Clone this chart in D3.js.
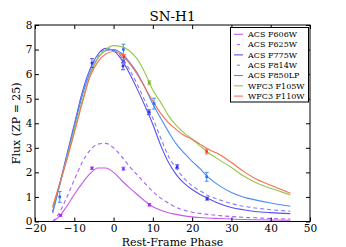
<!DOCTYPE html>
<html>
<head>
<meta charset="utf-8">
<script src="https://cdn.jsdelivr.net/npm/d3@7"></script>
<style>
  body { margin: 0; background: #fff; }
  svg { font-family: "DejaVu Serif", serif; }
</style>
</head>
<body>
<svg id="chart" width="346" height="247"></svg>
<script>
// template light curves, sampled on a common phase grid
const phase = [-15.5, -14, -12, -10, -8, -6, -4, -2, 0, 2, 4, 6, 8, 10, 12, 14, 16, 18, 20, 22, 24, 27, 30, 33, 36, 40, 45];
const f606w = [0.0, 0.18, 0.6, 1.1, 1.55, 1.95, 2.18, 2.18, 2.0, 1.68, 1.38, 1.1, 0.83, 0.6, 0.46, 0.36, 0.29, 0.23, 0.19, 0.16, 0.14, 0.12, 0.1, 0.08, 0.07, 0.06, 0.05];
const f625w = [0.0, 0.3, 0.95, 1.7, 2.4, 2.9, 3.15, 3.18, 3.0, 2.65, 2.25, 1.9, 1.55, 1.22, 0.95, 0.75, 0.57, 0.46, 0.38, 0.33, 0.29, 0.24, 0.2, 0.17, 0.15, 0.12, 0.1];
const f775w = [0.4, 1.35, 2.65, 3.95, 5.25, 6.2, 6.8, 7.05, 6.95, 6.6, 6.05, 5.4, 4.7, 3.95, 3.1, 2.4, 1.9, 1.55, 1.3, 1.1, 0.94, 0.72, 0.57, 0.48, 0.41, 0.36, 0.32];
const f814w = [0.38, 1.3, 2.6, 3.9, 5.2, 6.15, 6.75, 7.0, 6.98, 6.7, 6.2, 5.6, 4.9, 4.2, 3.4, 2.65, 2.15, 1.75, 1.45, 1.25, 1.06, 0.88, 0.73, 0.62, 0.55, 0.48, 0.42];
const f850lp = [0.33, 1.3, 2.55, 3.85, 5.1, 6.05, 6.65, 6.95, 7.0, 6.85, 6.5, 6.05, 5.45, 4.78, 4.2, 3.65, 3.15, 2.78, 2.45, 2.15, 1.82, 1.45, 1.18, 1.0, 0.88, 0.75, 0.62];
const f105w = [0.55, 1.38, 2.5, 3.7, 4.9, 5.95, 6.65, 7.0, 7.16, 7.12, 6.95, 6.62, 6.05, 5.35, 4.85, 4.3, 3.9, 3.6, 3.35, 3.08, 2.82, 2.5, 2.2, 1.86, 1.6, 1.35, 1.08];
const f110w = [0.6, 1.4, 2.45, 3.6, 4.8, 5.9, 6.5, 6.82, 6.92, 6.8, 6.45, 6.0, 5.45, 4.9, 4.4, 4.02, 3.74, 3.5, 3.35, 3.15, 2.95, 2.72, 2.4, 2.05, 1.75, 1.48, 1.15];

const bandNames = ['ACS F606W', 'ACS F625W', 'ACS F775W', 'ACS F814W', 'ACS F850LP', 'WFC3 F105W', 'WFC3 F110W'];

// observed photometry
const obsBand = [0, 0, 0, 1, 2, 2, 2, 2, 2, 3, 4, 4, 4, 4, 5, 6, 6];
const obsPhase = [-13.5, -5.5, 9.1, 2.5, -5.5, 2.4, 9.0, 16.2, 23.8, 2.5, -13.7, 2.5, 10.3, 23.7, 9.1, 2.6, 23.7];
const obsFlux = [0.25, 2.17, 0.68, 2.15, 6.45, 6.33, 4.45, 2.23, 0.93, 6.55, 1.0, 7.0, 4.8, 1.82, 5.65, 6.7, 2.85];
const obsErr = [0.04, 0.05, 0.05, 0.06, 0.18, 0.15, 0.1, 0.08, 0.06, 0.12, 0.22, 0.22, 0.22, 0.18, 0.08, 0.1, 0.1];

const xTicks = [-20, -10, 0, 10, 20, 30, 40, 50];
const yTicks = [0, 1, 2, 3, 4, 5, 6, 7, 8];

const series = [f606w, f625w, f775w, f814w, f850lp, f105w, f110w];
const lineColors = ['#c659ef', '#a064f6', '#5c50ef', '#7c80f6', '#4b8ef2', '#93c84a', '#f56f52'];
const markColors = ['#a328e6', '#8a3af2', '#2238e8', '#4a52f0', '#2d6ff0', '#7cb02c', '#ef3c24'];
const dashes = [null, '4,3', null, '4,3', null, null, null];

var svg = d3.select('#chart');
var m = { left: 35, right: 310, top: 25, bottom: 221.5 };

var x = d3.scaleLinear().domain([-20, 50]).range([m.left, m.right]);
var y = d3.scaleLinear().domain([0, 8]).range([m.bottom, m.top]);

var plot = svg.append('g');

plot.append('clipPath').attr('id', 'clip')
    .append('rect')
    .attr('x', m.left).attr('y', m.top)
    .attr('width', m.right - m.left).attr('height', m.bottom - m.top);

var line = d3.line()
    .x(function (d) { return x(d[0]); })
    .y(function (d) { return y(d[1]); })
    .curve(d3.curveMonotoneX);

var curves = plot.append('g').attr('clip-path', 'url(#clip)');
series.forEach(function (vals, i) {
    curves.append('path')
        .datum(phase.map(function (p, k) { return [p, vals[k]]; }))
        .attr('d', line)
        .attr('fill', 'none')
        .attr('stroke', lineColors[i])
        .attr('stroke-width', 1.1)
        .attr('stroke-dasharray', dashes[i]);
});

// error bars + markers
var pts = curves.append('g');
obsPhase.forEach(function (p, i) {
    var c = lineColors[obsBand[i]];
    var cx = x(p), y0 = y(obsFlux[i] - obsErr[i]), y1 = y(obsFlux[i] + obsErr[i]);
    pts.append('line').attr('x1', cx).attr('x2', cx).attr('y1', y0).attr('y2', y1)
        .attr('stroke', c).attr('stroke-width', 1);
    [y0, y1].forEach(function (yy) {
        pts.append('line').attr('x1', cx - 2).attr('x2', cx + 2).attr('y1', yy).attr('y2', yy)
            .attr('stroke', c).attr('stroke-width', 1);
    });
    pts.append('rect')
        .attr('x', cx - 1.3).attr('y', y(obsFlux[i]) - 1.3)
        .attr('width', 2.6).attr('height', 2.6)
        .attr('fill', markColors[obsBand[i]]);
});

// axes, ticks inward on all four sides
var fmt = d3.format('d');
var axB = d3.axisBottom(x).tickValues(xTicks).tickSizeInner(-4).tickSizeOuter(0).tickPadding(3).tickFormat(fmt);
var axT = d3.axisTop(x).tickValues(xTicks).tickSizeInner(-4).tickSizeOuter(0).tickFormat('');
var axL = d3.axisLeft(y).tickValues(yTicks).tickSizeInner(-4).tickSizeOuter(0).tickPadding(2.5).tickFormat(fmt);
var axR = d3.axisRight(y).tickValues(yTicks).tickSizeInner(-4).tickSizeOuter(0).tickFormat('');

[[axB, 'translate(0,' + m.bottom + ')'], [axT, 'translate(0,' + m.top + ')'],
 [axL, 'translate(' + m.left + ',0)'], [axR, 'translate(' + m.right + ',0)']].forEach(function (a) {
    var g = plot.append('g').attr('transform', a[1]).call(a[0]);
    g.select('.domain').remove();
    g.selectAll('line').attr('stroke', '#000');
    g.selectAll('text').attr('font-size', 10.5).attr('fill', '#000').attr('font-family', 'DejaVu Serif');
});

plot.append('rect')
    .attr('x', m.left).attr('y', m.top)
    .attr('width', m.right - m.left).attr('height', m.bottom - m.top)
    .attr('fill', 'none').attr('stroke', '#000').attr('stroke-width', 1);

svg.append('text').attr('x', (m.left + m.right) / 2).attr('y', 20.5)
    .attr('text-anchor', 'middle').attr('font-size', 13.5).text('SN-H1');
svg.append('text').attr('x', (m.left + m.right) / 2).attr('y', 245.5)
    .attr('text-anchor', 'middle').attr('font-size', 11).text('Rest-Frame Phase');
svg.append('text')
    .attr('transform', 'translate(20,' + ((m.top + m.bottom) / 2) + ') rotate(-90)')
    .attr('text-anchor', 'middle').attr('font-size', 11).text('Flux (ZP = 25)');

// legend
var leg = svg.append('g');
leg.append('rect').attr('x', 230.5).attr('y', 27.5).attr('width', 78).attr('height', 74.5)
    .attr('fill', '#fff').attr('stroke', '#000').attr('stroke-width', 1);
bandNames.forEach(function (name, i) {
    var yy = 34.3 + i * 10.3;
    leg.append('line').attr('x1', 234).attr('x2', 243).attr('y1', yy).attr('y2', yy)
        .attr('stroke', lineColors[i]).attr('stroke-width', 1.1)
        .attr('stroke-dasharray', dashes[i] ? '3,3' : null)
        .attr('stroke-dashoffset', dashes[i] ? -3 : null);
    leg.append('text').attr('x', 248).attr('y', yy + 2.8)
        .attr('font-size', 8).text(name);
});
</script>
</body>
</html>
